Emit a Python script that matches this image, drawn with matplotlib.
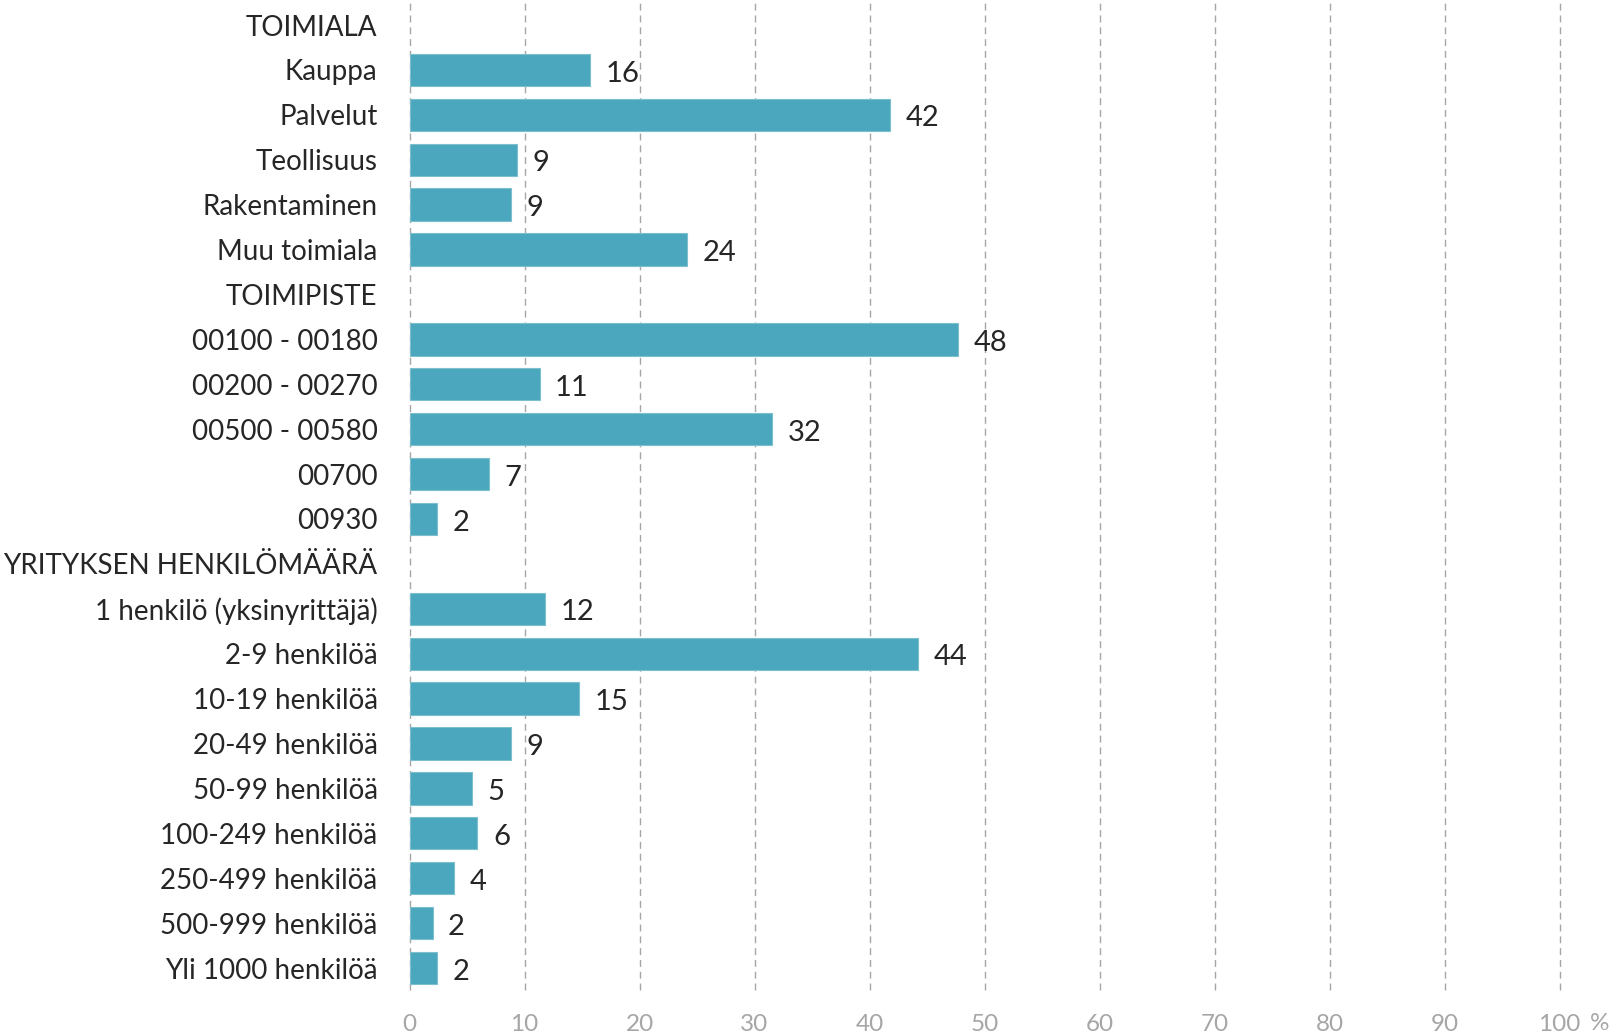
import matplotlib
matplotlib.use("Agg")
import matplotlib.pyplot as plt

categories = [
    "TOIMIALA", "Kauppa", "Palvelut", "Teollisuus", "Rakentaminen", "Muu toimiala",
    "TOIMIPISTE", "00100 - 00180", "00200 - 00270", "00500 - 00580", "00700", "00930",
    "YRITYKSEN HENKILÖMÄÄRÄ", "1 henkilö (yksinyrittäjä)", "2-9 henkilöä", "10-19 henkilöä",
    "20-49 henkilöä", "50-99 henkilöä", "100-249 henkilöä", "250-499 henkilöä",
    "500-999 henkilöä", "Yli 1000 henkilöä",
]
# None = section header row (no bar)
values = [
    None, 15.7, 41.8, 9.3, 8.85, 24.1,
    None, 47.7, 11.3, 31.5, 6.9, 2.4,
    None, 11.8, 44.2, 14.7, 8.85, 5.4, 5.9, 3.9, 2.0, 2.4,
]
labels = [
    None, "16", "42", "9", "9", "24",
    None, "48", "11", "32", "7", "2",
    None, "12", "44", "15", "9", "5", "6", "4", "2", "2",
]
xticks = [0, 10, 20, 30, 40, 50, 60, 70, 80, 90, 100]

plt.rcParams['font.family'] = ['Lato', 'DejaVu Sans']

fig = plt.figure(figsize=(16.22, 10.35), dpi=100)
ax = fig.add_axes([0.2525, 0.043, 0.709, 0.9545])

n = len(categories)
ypos = list(range(n))
bar_color = "#4BA7BD"
for y, v, lab in zip(ypos, values, labels):
    if v is None:
        continue
    ax.barh(y, v, height=0.72, color=bar_color, edgecolor="#7CC0D0", linewidth=0.8, zorder=3)
    ax.text(v + 1.35, y + 0.08, lab, va="center", ha="left", fontsize=21, color="#262626", zorder=4)

ax.set_ylim(n - 0.5, -0.5)
ax.set_xlim(0, 100)
ax.set_yticks(ypos)
ax.set_yticklabels(categories, fontsize=20, color="#262626")
ax.tick_params(axis="y", length=0, pad=23)
ax.set_xticks(xticks)
ax.set_xticklabels([str(t) for t in xticks], fontsize=17.5, color="#A6A6A6")
ax.tick_params(axis="x", length=0, pad=17)
for s in ax.spines.values():
    s.set_visible(False)
for t in xticks:
    ax.axvline(t, color="#A6A6A6", linewidth=1.0, linestyle=(0, (5, 3.5)), zorder=1,
               clip_on=False)
fig.text(1600 / 1622, 1 - 1024 / 1035, "%", fontsize=17.5, color="#A6A6A6",
         ha="center", va="center")

fig.savefig("out.png", dpi=100)
